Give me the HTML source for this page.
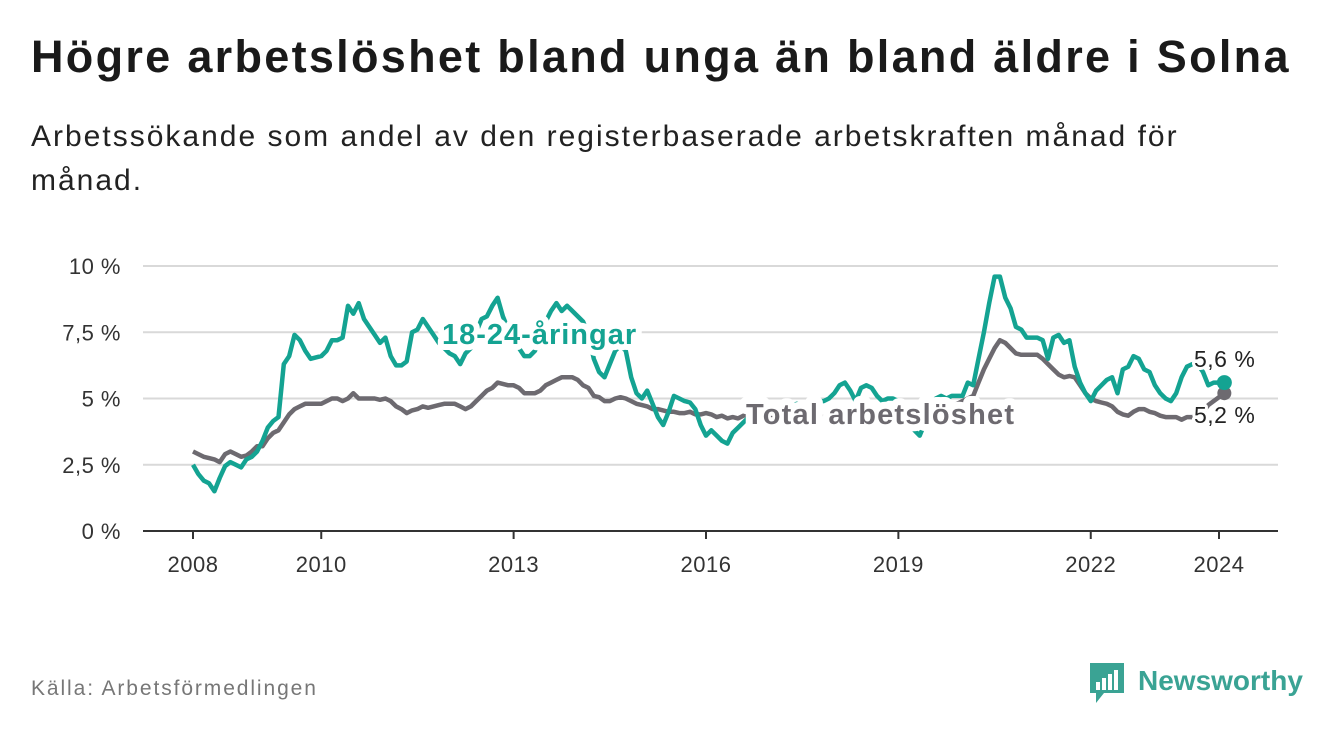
<!DOCTYPE html>
<html><head><meta charset="utf-8"><style>
body{margin:0;width:1340px;height:734px;background:#fff;font-family:"Liberation Sans",sans-serif;overflow:hidden;position:relative}
#title{position:absolute;left:31px;top:31px;font-size:45px;font-weight:bold;color:#1a1a1a;margin:0;letter-spacing:2.3px;white-space:nowrap}
#sub{position:absolute;left:31px;top:115px;font-size:30px;color:#222;line-height:44px;width:1200px;letter-spacing:2.0px}
#src{position:absolute;left:31px;top:677px;font-size:21px;color:#777;letter-spacing:1.9px}
svg{position:absolute;left:0;top:0}
</style></head><body>
<h1 id="title">Högre arbetslöshet bland unga än bland äldre i Solna</h1>
<div id="sub">Arbetssökande som andel av den registerbaserade arbetskraften månad för månad.</div>
<div id="src">Källa: Arbetsförmedlingen</div>
<svg id="chart" width="1340" height="734"></svg>
<script>
const yTicks=[0,2.5,5,7.5,10];
const yTickLabels=["0 %","2,5 %","5 %","7,5 %","10 %"];
const xTicks=[2008,2010,2013,2016,2019,2022,2024];
const startYear=2008;
const youth=[2.5,2.15,1.9,1.8,1.5,2.0,2.45,2.6,2.5,2.4,2.7,2.8,
3.0,3.4,3.9,4.15,4.3,6.3,6.6,7.4,7.2,6.8,6.5,6.55,
6.6,6.8,7.2,7.2,7.3,8.5,8.2,8.6,8.0,7.7,7.4,7.1,
7.3,6.6,6.25,6.25,6.4,7.5,7.6,8.0,7.7,7.4,7.1,6.9,
6.7,6.6,6.3,6.7,6.9,7.5,8.0,8.1,8.5,8.8,8.1,7.6,
7.2,6.9,6.6,6.6,6.8,7.4,7.9,8.3,8.6,8.3,8.5,8.3,
8.1,7.9,7.4,6.5,6.0,5.8,6.3,6.8,7.0,6.8,5.8,5.2,
5.0,5.3,4.8,4.3,4.0,4.5,5.1,5.0,4.9,4.85,4.6,4.0,
3.6,3.8,3.6,3.4,3.3,3.7,3.9,4.1,4.3,4.4,4.5,4.6,
4.5,4.6,4.7,4.8,4.7,4.8,4.7,4.6,4.8,4.9,4.9,5.0,
5.2,5.5,5.6,5.3,4.9,5.4,5.5,5.4,5.1,4.9,5.0,5.0,
4.9,4.5,4.1,3.8,3.6,4.1,4.6,5.0,5.1,5.0,5.1,5.1,
5.1,5.6,5.5,6.5,7.5,8.6,9.6,9.6,8.8,8.4,7.7,7.6,
7.3,7.3,7.3,7.2,6.5,7.3,7.4,7.1,7.2,6.2,5.6,5.2,
4.9,5.3,5.5,5.7,5.8,5.2,6.1,6.2,6.6,6.5,6.1,6.0,
5.5,5.2,5.0,4.9,5.2,5.8,6.2,6.3,6.3,6.0,5.5,5.6,
5.6,5.6];
const total=[3.0,2.9,2.8,2.75,2.7,2.6,2.9,3.0,2.9,2.8,2.85,3.0,
3.2,3.2,3.5,3.7,3.8,4.1,4.4,4.6,4.7,4.8,4.8,4.8,
4.8,4.9,5.0,5.0,4.9,5.0,5.2,5.0,5.0,5.0,5.0,4.95,
5.0,4.9,4.7,4.6,4.45,4.55,4.6,4.7,4.65,4.7,4.75,4.8,
4.8,4.8,4.7,4.6,4.7,4.9,5.1,5.3,5.4,5.6,5.55,5.5,
5.5,5.4,5.2,5.2,5.2,5.3,5.5,5.6,5.7,5.8,5.8,5.8,
5.7,5.5,5.4,5.1,5.05,4.9,4.9,5.0,5.05,5.0,4.9,4.8,
4.75,4.7,4.6,4.6,4.55,4.5,4.5,4.45,4.45,4.5,4.4,4.4,
4.45,4.4,4.3,4.35,4.25,4.3,4.25,4.35,4.4,4.4,4.4,4.35,
4.3,4.3,4.35,4.3,4.3,4.25,4.3,4.3,4.3,4.35,4.3,4.3,
4.3,4.25,4.2,4.25,4.3,4.25,4.3,4.3,4.35,4.3,4.3,4.35,
4.3,4.3,4.35,4.4,4.4,4.5,4.5,4.6,4.6,4.7,4.7,4.8,
4.9,5.0,5.1,5.6,6.1,6.5,6.9,7.2,7.1,6.9,6.7,6.65,
6.65,6.65,6.65,6.5,6.3,6.1,5.9,5.8,5.85,5.8,5.5,5.2,
5.0,4.9,4.85,4.8,4.7,4.5,4.4,4.35,4.5,4.6,4.6,4.5,
4.45,4.35,4.3,4.3,4.3,4.2,4.3,4.3,4.35,4.5,4.75,4.9,
5.05,5.2];
const NS="http://www.w3.org/2000/svg";
const svg=document.getElementById('chart');
const X0=193,PX=64.125,Y0=531,PY=26.5;
function xs(yr){return X0+(yr-startYear)*PX;}
function xm(i){return xs(startYear+i/12);}
function ys(v){return Y0-v*PY;}
function mk(tag,attrs,parent){const e=document.createElementNS(NS,tag);for(const k in attrs)e.setAttribute(k,attrs[k]);(parent||svg).appendChild(e);return e;}
yTicks.forEach((t,i)=>{
  const g=mk('line',{x1:143,x2:1278,y1:ys(t),y2:ys(t),stroke:t===0?'#333':'#d9d9d9','stroke-width':2});
  
  
  const l=mk('text',{x:121,y:ys(t)+8,'text-anchor':'end','font-size':22,fill:'#333','letter-spacing':0.5});
  l.textContent=yTickLabels[i];
  
  
});
xTicks.forEach(t=>{
  const tk=mk('line',{x1:xs(t),x2:xs(t),y1:531,y2:539,stroke:'#333','stroke-width':2});
  
  
  const l=mk('text',{x:xs(t),y:572,'text-anchor':'middle','font-size':22,fill:'#333','letter-spacing':0.5});
  l.textContent=t;
  
  
});
function line(arr,color,name){
  const d=arr.map((v,i)=>(i?'L':'M')+xm(i).toFixed(1)+','+ys(v).toFixed(1)).join('');
  const p=mk('path',{d:d,fill:'none',stroke:color,'stroke-width':4.5,'stroke-linejoin':'round'});
  
  
}
line(total,'#6d6a70','total-line');
line(youth,'#14a392','youth-line');
const dt=mk('circle',{cx:xm(total.length-1),cy:ys(total[total.length-1]),r:7,fill:'#6d6a70'});


const dy=mk('circle',{cx:xm(youth.length-1),cy:ys(youth[youth.length-1]),r:7.5,fill:'#14a392'});


function lab(txt,x,y,col,size,bold,sw,ls,name){
  const t=mk('text',{x:x,y:y,'font-size':size,'font-weight':bold?'bold':'normal',fill:col,stroke:'#fff','stroke-width':sw,'paint-order':'stroke','stroke-linejoin':'round','letter-spacing':ls});
  t.textContent=txt;
  
  
}
lab('18-24-åringar',442,344,'#14a392',29,true,12,1.0,'youth-series-label');
lab('Total arbetslöshet',746,424,'#6d6a70',29,true,14,1.2,'total-series-label');
lab('5,6 %',1194,367,'#222',23,false,6,0.5,'youth-end-value');
lab('5,2 %',1194,423,'#222',23,false,6,0.5,'total-end-value');
const lg=mk('g',{});


mk('path',{d:'M1090 663h34v30h-20l-8 10v-10h-6z',fill:'#3aa394'},lg);
[[1096,682,4,8],[1102,678,4,12],[1108,674,4,16],[1114,670,4,20]].forEach(r=>mk('rect',{x:r[0],y:r[1],width:r[2],height:r[3],fill:'#fff'},lg));
const lt=mk('text',{x:1138,y:690,'font-size':28,'font-weight':'bold',fill:'#3aa394'},lg);
lt.textContent='Newsworthy';
</script>
</body></html>
